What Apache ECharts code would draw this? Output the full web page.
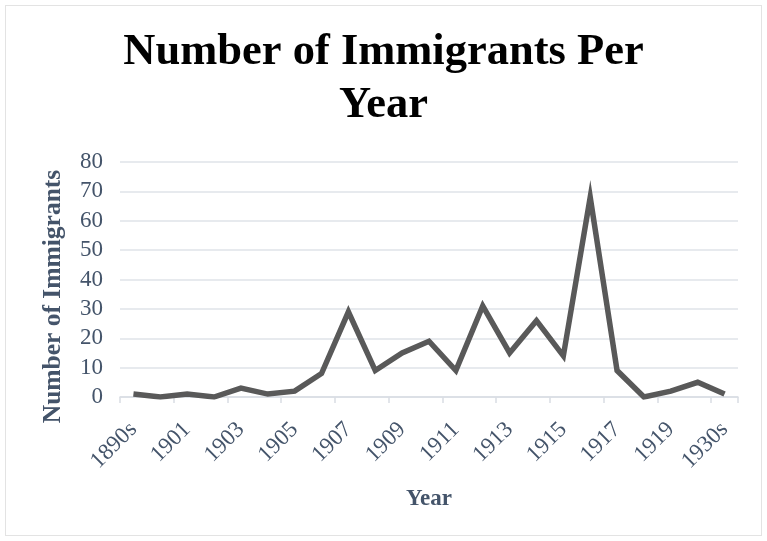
<!DOCTYPE html>
<html><head><meta charset="utf-8">
<script src="https://cdn.jsdelivr.net/npm/echarts@6/dist/echarts.min.js"></script>
<style>html,body{margin:0;padding:0;background:#fff}#c{width:767px;height:541px}
#b{position:absolute;left:5px;top:5px;width:757px;height:531px;border:1px solid #e3e3e3;box-sizing:border-box;pointer-events:none}</style>
</head><body><div id="c"></div><div id="b"></div>
<script>
const categories = ['1890s','1900','1901','1902','1903','1904','1905','1906','1907','1908','1909','1910','1911','1912','1913','1914','1915','1916','1917','1918','1919','1920','1930s'];
const immigrants = [1,0,1,0,3,1,2,8,29,9,15,19,9,31,15,26,14,68,9,0,2,5,1];
const titleText = 'Number of Immigrants Per\nYear';
const yName = 'Number of Immigrants';
const xName = 'Year';
const font = '"Liberation Serif", "DejaVu Serif", serif';
const txt = '#44546a';
const chart = echarts.init(document.getElementById('c'));
chart.setOption({
  animation: false,
  title: {text: titleText, left: 'center', top: 21,
    textStyle: {fontFamily: font, fontSize: 44.5, fontWeight: 'bold', color: '#000', lineHeight: 53}},
  grid: {left: 120, right: 29, top: 162, bottom: 144},
  xAxis: {type: 'category', data: categories, boundaryGap: true,
    name: xName, nameLocation: 'middle', nameGap: 91,
    nameTextStyle: {fontFamily: font, fontSize: 23, fontWeight: 'bold', color: txt},
    axisLine: {lineStyle: {color: '#d9dde3', width: 1.5}},
    axisTick: {show: true, length: 6, lineStyle: {color: '#d9dde3', width: 1.5}},
    axisLabel: {interval: 1, rotate: 45, fontFamily: font, fontSize: 23, color: txt, margin: 29}},
  yAxis: {type: 'value', min: 0, max: 80, interval: 10,
    name: yName, nameLocation: 'middle', nameGap: 54,
    nameTextStyle: {fontFamily: font, fontSize: 25.5, fontWeight: 'bold', color: txt, padding: [0, 34, 0, 0]},
    axisLine: {show: false}, axisTick: {show: false},
    axisLabel: {fontFamily: font, fontSize: 23, color: txt, margin: 17},
    splitLine: {lineStyle: {color: '#dfe3e8', width: 1.5}}},
  series: [{type: 'line', data: immigrants, symbol: 'none',
    lineStyle: {color: '#595959', width: 5.5, join: 'miter'}}]
});
</script></body></html>
